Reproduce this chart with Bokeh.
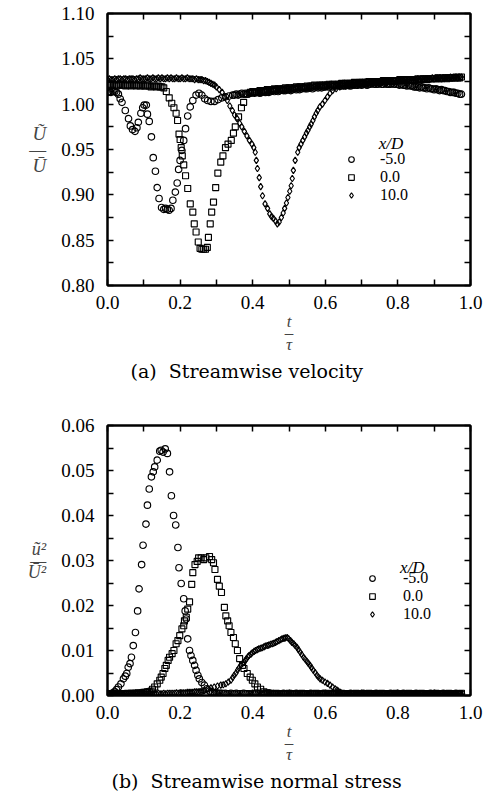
from bokeh.plotting import figure
from bokeh.models import (Range1d, LinearAxis, FixedTicker, Label, Legend, LegendItem,
                          PrintfTickFormatter, Title)
from bokeh.layouts import column
from bokeh.embed import file_html
from bokeh.resources import INLINE

SERIF = "Liberation Serif"
CAPF = "DejaVu Serif"

# common sampling grid of the phase t/tau (step 0.005) used by the flat parts
GRID = [0.000, 0.005, 0.010, 0.015, 0.020, 0.025, 0.030, 0.035, 0.040, 0.045,
        0.050, 0.055, 0.060, 0.065, 0.070, 0.075, 0.080, 0.085, 0.090, 0.095,
        0.100, 0.105, 0.110, 0.115, 0.120, 0.125, 0.130, 0.135, 0.140, 0.145,
        0.150, 0.155, 0.160, 0.165, 0.170, 0.175, 0.180, 0.185, 0.190, 0.195,
        0.200, 0.205, 0.210, 0.215, 0.220, 0.225, 0.230, 0.235, 0.240, 0.245,
        0.250, 0.255, 0.260, 0.265, 0.270, 0.275, 0.280, 0.285, 0.290, 0.295,
        0.300, 0.305, 0.310, 0.315, 0.320, 0.325, 0.330, 0.335, 0.340, 0.345,
        0.350, 0.355, 0.360, 0.365, 0.370, 0.375, 0.380, 0.385, 0.390, 0.395,
        0.400, 0.405, 0.410, 0.415, 0.420, 0.425, 0.430, 0.435, 0.440, 0.445,
        0.450, 0.455, 0.460, 0.465, 0.470, 0.475, 0.480, 0.485, 0.490, 0.495,
        0.500, 0.505, 0.510, 0.515, 0.520, 0.525, 0.530, 0.535, 0.540, 0.545,
        0.550, 0.555, 0.560, 0.565, 0.570, 0.575, 0.580, 0.585, 0.590, 0.595,
        0.600, 0.605, 0.610, 0.615, 0.620, 0.625, 0.630, 0.635, 0.640, 0.645,
        0.650, 0.655, 0.660, 0.665, 0.670, 0.675, 0.680, 0.685, 0.690, 0.695,
        0.700, 0.705, 0.710, 0.715, 0.720, 0.725, 0.730, 0.735, 0.740, 0.745,
        0.750, 0.755, 0.760, 0.765, 0.770, 0.775, 0.780, 0.785, 0.790, 0.795,
        0.800, 0.805, 0.810, 0.815, 0.820, 0.825, 0.830, 0.835, 0.840, 0.845,
        0.850, 0.855, 0.860, 0.865, 0.870, 0.875, 0.880, 0.885, 0.890, 0.895,
        0.900, 0.905, 0.910, 0.915, 0.920, 0.925, 0.930, 0.935, 0.940, 0.945,
        0.950, 0.955, 0.960, 0.965, 0.970, 0.975]

# ================= (a) streamwise velocity  U~/U =================
# x/D = -5.0 (circles)
ua_m5_start = [1.013, 1.014, 1.013, 1.014, 1.014, 1.013, 1.011]            # GRID[0:7]
ta_m5_dip = [0.035, 0.040, 0.049, 0.058, 0.063, 0.069, 0.076, 0.081, 0.085, 0.092, 0.097,
             0.101, 0.107, 0.110, 0.115, 0.121, 0.126, 0.132, 0.137, 0.142, 0.149, 0.155,
             0.160, 0.165, 0.170, 0.175, 0.180, 0.187, 0.192, 0.196, 0.200, 0.205, 0.210,
             0.215, 0.221, 0.228, 0.235, 0.244, 0.252, 0.260, 0.268, 0.276, 0.285, 0.295,
             0.305, 0.315, 0.325, 0.335, 0.345]
ua_m5_dip = [1.006, 1.002, 0.993, 0.984, 0.976, 0.972, 0.970, 0.974, 0.980, 0.990, 0.996,
             0.999, 0.999, 0.989, 0.981, 0.964, 0.941, 0.926, 0.908, 0.896, 0.886, 0.884,
             0.885, 0.884, 0.883, 0.885, 0.894, 0.903, 0.913, 0.928, 0.938, 0.949, 0.960,
             0.973, 0.987, 0.997, 1.004, 1.010, 1.012, 1.010, 1.006, 1.004, 1.003, 1.003,
             1.005, 1.007, 1.008, 1.009, 1.010]
ua_m5_end = [1.010, 1.011, 1.010, 1.011, 1.012, 1.011, 1.012, 1.011, 1.012, 1.012,   # GRID[70:]
             1.013, 1.012, 1.013, 1.013, 1.012, 1.013, 1.014, 1.013, 1.014, 1.013,
             1.014, 1.015, 1.014, 1.015, 1.014, 1.015, 1.016, 1.015, 1.015, 1.016,
             1.016, 1.015, 1.016, 1.017, 1.016, 1.017, 1.016, 1.017, 1.018, 1.017,
             1.017, 1.018, 1.018, 1.017, 1.018, 1.019, 1.018, 1.019, 1.018, 1.019,
             1.019, 1.020, 1.019, 1.020, 1.019, 1.020, 1.020, 1.021, 1.020, 1.020,
             1.021, 1.020, 1.021, 1.021, 1.020, 1.021, 1.022, 1.021, 1.021, 1.022,
             1.021, 1.022, 1.022, 1.021, 1.022, 1.022, 1.023, 1.022, 1.022, 1.022,
             1.023, 1.022, 1.022, 1.023, 1.022, 1.022, 1.022, 1.023, 1.022, 1.022,
             1.022, 1.021, 1.022, 1.021, 1.021, 1.020, 1.021, 1.020, 1.020, 1.019,
             1.019, 1.019, 1.018, 1.019, 1.018, 1.018, 1.017, 1.018, 1.017, 1.017,
             1.016, 1.017, 1.016, 1.015, 1.016, 1.015, 1.015, 1.014, 1.014, 1.013,
             1.013, 1.013, 1.012, 1.012, 1.011, 1.011]

# x/D = 0.0 (squares)
ua_0_start = [1.021, 1.022, 1.021, 1.022, 1.021, 1.020, 1.021, 1.022, 1.021, 1.021,   # GRID[0:32]
              1.020, 1.021, 1.021, 1.020, 1.021, 1.021, 1.020, 1.021, 1.020, 1.021,
              1.020, 1.020, 1.021, 1.020, 1.019, 1.020, 1.020, 1.019, 1.020, 1.019,
              1.019, 1.018]
ta_0_dip = [0.162, 0.170, 0.177, 0.183, 0.189, 0.193, 0.197, 0.200, 0.203, 0.206, 0.210,
            0.215, 0.221, 0.228, 0.235, 0.239, 0.244, 0.250, 0.255, 0.260, 0.265, 0.270,
            0.275, 0.278, 0.283, 0.287, 0.292, 0.298, 0.304, 0.312, 0.318, 0.325, 0.332,
            0.341, 0.347, 0.352, 0.361, 0.369, 0.375, 0.384, 0.393]
ua_0_dip = [1.014, 1.007, 1.001, 0.996, 0.990, 0.982, 0.967, 0.961, 0.952, 0.943, 0.933,
            0.921, 0.907, 0.890, 0.881, 0.868, 0.859, 0.848, 0.841, 0.840, 0.840, 0.840,
            0.842, 0.853, 0.868, 0.881, 0.892, 0.908, 0.924, 0.936, 0.943, 0.952, 0.956,
            0.960, 0.968, 0.975, 0.986, 0.996, 1.002, 1.011, 1.013]
ua_0_end = [1.014, 1.013, 1.014, 1.014, 1.015, 1.014, 1.015, 1.015, 1.016, 1.015,   # GRID[80:]
            1.016, 1.016, 1.017, 1.016, 1.017, 1.017, 1.016, 1.017, 1.018, 1.017,
            1.018, 1.018, 1.017, 1.018, 1.019, 1.018, 1.019, 1.019, 1.018, 1.019,
            1.020, 1.019, 1.020, 1.020, 1.021, 1.020, 1.020, 1.021, 1.021, 1.020,
            1.021, 1.021, 1.022, 1.021, 1.022, 1.022, 1.021, 1.022, 1.022, 1.023,
            1.022, 1.023, 1.023, 1.022, 1.023, 1.023, 1.024, 1.023, 1.023, 1.024,
            1.024, 1.023, 1.024, 1.024, 1.025, 1.024, 1.024, 1.025, 1.025, 1.024,
            1.025, 1.025, 1.026, 1.025, 1.025, 1.026, 1.026, 1.025, 1.026, 1.026,
            1.026, 1.027, 1.026, 1.026, 1.027, 1.027, 1.026, 1.027, 1.027, 1.027,
            1.027, 1.028, 1.027, 1.027, 1.028, 1.028, 1.027, 1.028, 1.028, 1.028,
            1.028, 1.028, 1.029, 1.028, 1.028, 1.029, 1.029, 1.028, 1.029, 1.029,
            1.029, 1.029, 1.030, 1.029, 1.029, 1.030]

# x/D = 10.0 (diamonds)
ua_10_start = [1.027, 1.028, 1.027, 1.027, 1.028, 1.027, 1.028, 1.028, 1.027, 1.028,   # GRID[0:60]
               1.028, 1.027, 1.028, 1.028, 1.028, 1.027, 1.028, 1.028, 1.029, 1.028,
               1.028, 1.028, 1.029, 1.028, 1.028, 1.029, 1.028, 1.028, 1.029, 1.028,
               1.029, 1.028, 1.028, 1.029, 1.028, 1.029, 1.028, 1.028, 1.029, 1.028,
               1.028, 1.029, 1.028, 1.028, 1.029, 1.028, 1.028, 1.028, 1.027, 1.028,
               1.027, 1.027, 1.027, 1.026, 1.026, 1.025, 1.024, 1.023, 1.022, 1.021]
ta_10_dip = [0.300, 0.308, 0.316, 0.323, 0.330, 0.337, 0.344, 0.350, 0.357, 0.364, 0.370,
             0.377, 0.384, 0.391, 0.398, 0.403, 0.407, 0.410, 0.413, 0.418, 0.422, 0.427,
             0.434, 0.441, 0.447, 0.452, 0.457, 0.463, 0.468, 0.473, 0.479, 0.484, 0.488,
             0.493, 0.497, 0.502, 0.506, 0.509, 0.512, 0.517, 0.524, 0.528, 0.533, 0.538,
             0.543, 0.548, 0.552, 0.557, 0.561, 0.566, 0.570, 0.575, 0.579, 0.585, 0.592,
             0.599, 0.606, 0.613, 0.620, 0.630, 0.640]
ua_10_dip = [1.019, 1.016, 1.013, 1.008, 1.004, 0.998, 0.993, 0.988, 0.984, 0.979, 0.975,
             0.970, 0.965, 0.960, 0.956, 0.952, 0.947, 0.938, 0.929, 0.919, 0.909, 0.899,
             0.890, 0.885, 0.879, 0.876, 0.874, 0.871, 0.868, 0.870, 0.875, 0.880, 0.885,
             0.891, 0.897, 0.904, 0.910, 0.918, 0.927, 0.938, 0.947, 0.952, 0.956, 0.960,
             0.964, 0.968, 0.971, 0.975, 0.978, 0.982, 0.986, 0.990, 0.993, 0.997, 1.000,
             1.004, 1.008, 1.012, 1.015, 1.017, 1.019]
ua_10_end = [1.020, 1.020, 1.021, 1.020, 1.021, 1.021, 1.021, 1.022, 1.021, 1.022,   # GRID[130:]
             1.022, 1.022, 1.023, 1.022, 1.023, 1.023, 1.023, 1.024, 1.023, 1.024,
             1.024, 1.024, 1.025, 1.024, 1.025, 1.025, 1.025, 1.025, 1.026, 1.025,
             1.026, 1.026, 1.026, 1.026, 1.027, 1.026, 1.027, 1.027, 1.027, 1.027,
             1.027, 1.028, 1.027, 1.028, 1.028, 1.028, 1.028, 1.028, 1.028, 1.029,
             1.028, 1.029, 1.029, 1.029, 1.028, 1.029, 1.029, 1.029, 1.029, 1.030,
             1.029, 1.029, 1.030, 1.029, 1.030, 1.030]

# ================= (b) streamwise normal stress  u~^2/U^2 =================
# x/D = -5.0 (circles)
vb_m5_start = [0.0003, 0.0004, 0.0004, 0.0006, 0.0009]                      # GRID[0:5]
tb_m5_dip = [0.025, 0.030, 0.037, 0.044, 0.049, 0.053, 0.057, 0.062, 0.066, 0.071, 0.077,
             0.083, 0.087, 0.094, 0.098, 0.106, 0.110, 0.115, 0.121, 0.126, 0.130, 0.137,
             0.144, 0.148, 0.153, 0.159, 0.165, 0.171, 0.176, 0.182, 0.188, 0.194, 0.197,
             0.203, 0.210, 0.214, 0.217, 0.221, 0.226, 0.230, 0.235, 0.240, 0.244, 0.249,
             0.253, 0.260, 0.267, 0.274, 0.281]
vb_m5_dip = [0.0013, 0.0019, 0.0026, 0.0037, 0.0043, 0.0049, 0.0063, 0.0071, 0.0085, 0.0111,
             0.0140, 0.0188, 0.0237, 0.0291, 0.0334, 0.0381, 0.0423, 0.0459, 0.0486, 0.0497,
             0.0508, 0.0523, 0.0543, 0.0545, 0.0541, 0.0548, 0.0538, 0.0497, 0.0444, 0.0400,
             0.0379, 0.0329, 0.0284, 0.0249, 0.0215, 0.0188, 0.0170, 0.0126, 0.0100, 0.0089,
             0.0078, 0.0067, 0.0056, 0.0045, 0.0037, 0.0029, 0.0023, 0.0015, 0.0010]
vb_m5_end = [0.0008, 0.0007, 0.0006, 0.0006, 0.0005, 0.0005, 0.0005, 0.0004, 0.0005, 0.0004,  # GRID[57:]
             0.0004, 0.0005, 0.0004, 0.0004, 0.0005, 0.0004, 0.0004, 0.0004, 0.0005, 0.0004,
             0.0004, 0.0004, 0.0003, 0.0004, 0.0004, 0.0005, 0.0004, 0.0004, 0.0003, 0.0004,
             0.0004, 0.0004, 0.0005, 0.0004, 0.0004, 0.0004, 0.0003, 0.0004, 0.0004, 0.0004,
             0.0005, 0.0004, 0.0004, 0.0003, 0.0004, 0.0004, 0.0004, 0.0005, 0.0004, 0.0004,
             0.0004, 0.0003, 0.0004, 0.0004, 0.0004, 0.0005, 0.0004, 0.0004, 0.0004, 0.0003,
             0.0004, 0.0004, 0.0005, 0.0004, 0.0004, 0.0004, 0.0003, 0.0004, 0.0004, 0.0005,
             0.0004, 0.0004, 0.0004, 0.0003, 0.0004, 0.0004, 0.0004, 0.0005, 0.0004, 0.0004,
             0.0003, 0.0004, 0.0004, 0.0004, 0.0005, 0.0004, 0.0004, 0.0004, 0.0003, 0.0004,
             0.0004, 0.0005, 0.0004, 0.0004, 0.0004, 0.0003, 0.0004, 0.0004, 0.0004, 0.0005,
             0.0004, 0.0004, 0.0003, 0.0004, 0.0004, 0.0004, 0.0005, 0.0004, 0.0004, 0.0004,
             0.0003, 0.0004, 0.0004, 0.0005, 0.0004, 0.0004, 0.0004, 0.0003, 0.0004, 0.0004,
             0.0004, 0.0005, 0.0004, 0.0004, 0.0003, 0.0004, 0.0004, 0.0004, 0.0005, 0.0004,
             0.0004, 0.0004, 0.0003, 0.0004, 0.0004, 0.0005, 0.0004, 0.0004, 0.0004]

# x/D = 0.0 (squares)
vb_0_start = [0.0003, 0.0003, 0.0003, 0.0004, 0.0003, 0.0004, 0.0003, 0.0004, 0.0004, 0.0004,  # GRID[0:25]
              0.0004, 0.0005, 0.0004, 0.0005, 0.0005, 0.0005, 0.0005, 0.0006, 0.0005, 0.0006,
              0.0007, 0.0007, 0.0008, 0.0009, 0.0010]
tb_0_dip = [0.124, 0.130, 0.137, 0.144, 0.148, 0.153, 0.158, 0.162, 0.167, 0.171, 0.178,
            0.183, 0.189, 0.194, 0.199, 0.205, 0.210, 0.212, 0.217, 0.221, 0.226, 0.232,
            0.235, 0.241, 0.247, 0.251, 0.258, 0.265, 0.271, 0.281, 0.287, 0.292, 0.296,
            0.303, 0.308, 0.314, 0.322, 0.326, 0.331, 0.335, 0.340, 0.347, 0.352, 0.358,
            0.364, 0.372, 0.376, 0.385, 0.393, 0.399, 0.406, 0.413, 0.422, 0.431]
vb_0_dip = [0.0014, 0.0019, 0.0026, 0.0034, 0.0041, 0.0049, 0.0060, 0.0067, 0.0078, 0.0085,
            0.0093, 0.0100, 0.0115, 0.0122, 0.0133, 0.0148, 0.0155, 0.0166, 0.0174, 0.0192,
            0.0208, 0.0247, 0.0273, 0.0291, 0.0298, 0.0306, 0.0306, 0.0302, 0.0306, 0.0309,
            0.0302, 0.0295, 0.0280, 0.0258, 0.0243, 0.0229, 0.0196, 0.0177, 0.0166, 0.0155,
            0.0140, 0.0129, 0.0115, 0.0100, 0.0082, 0.0067, 0.0060, 0.0049, 0.0041, 0.0034,
            0.0026, 0.0019, 0.0014, 0.0008]
vb_0_end = [0.0006, 0.0005, 0.0005, 0.0004, 0.0004, 0.0005, 0.0004, 0.0004, 0.0004, 0.0003,  # GRID[88:]
            0.0004, 0.0004, 0.0005, 0.0004, 0.0004, 0.0004, 0.0003, 0.0004, 0.0004, 0.0005,
            0.0004, 0.0004, 0.0004, 0.0003, 0.0004, 0.0004, 0.0004, 0.0005, 0.0004, 0.0004,
            0.0003, 0.0004, 0.0004, 0.0004, 0.0005, 0.0004, 0.0004, 0.0004, 0.0003, 0.0004,
            0.0004, 0.0005, 0.0004, 0.0004, 0.0004, 0.0003, 0.0004, 0.0004, 0.0004, 0.0005,
            0.0004, 0.0004, 0.0003, 0.0004, 0.0004, 0.0004, 0.0005, 0.0004, 0.0004, 0.0004,
            0.0003, 0.0004, 0.0004, 0.0005, 0.0004, 0.0004, 0.0004, 0.0003, 0.0004, 0.0004,
            0.0004, 0.0005, 0.0004, 0.0004, 0.0003, 0.0004, 0.0004, 0.0004, 0.0005, 0.0004,
            0.0004, 0.0004, 0.0003, 0.0004, 0.0004, 0.0005, 0.0004, 0.0004, 0.0004, 0.0003,
            0.0004, 0.0004, 0.0004, 0.0005, 0.0004, 0.0004, 0.0003, 0.0004, 0.0004, 0.0004,
            0.0005, 0.0004, 0.0004, 0.0004, 0.0003, 0.0004, 0.0004, 0.0005]

# x/D = 10.0 (diamonds)
vb_10_start = [0.0004, 0.0004, 0.0003, 0.0004, 0.0004, 0.0003, 0.0004, 0.0004, 0.0004, 0.0003,  # GRID[0:54]
               0.0004, 0.0004, 0.0004, 0.0003, 0.0004, 0.0004, 0.0004, 0.0003, 0.0004, 0.0004,
               0.0004, 0.0004, 0.0003, 0.0004, 0.0004, 0.0004, 0.0004, 0.0004, 0.0005, 0.0004,
               0.0004, 0.0005, 0.0004, 0.0005, 0.0005, 0.0005, 0.0005, 0.0005, 0.0006, 0.0005,
               0.0006, 0.0006, 0.0006, 0.0006, 0.0007, 0.0007, 0.0007, 0.0007, 0.0008, 0.0008,
               0.0008, 0.0009, 0.0009, 0.0010]
tb_10_dip = [0.268, 0.276, 0.285, 0.294, 0.303, 0.312, 0.319, 0.326, 0.333, 0.340, 0.345,
             0.349, 0.354, 0.358, 0.362, 0.367, 0.372, 0.376, 0.380, 0.383, 0.387, 0.390,
             0.395, 0.399, 0.404, 0.408, 0.413, 0.417, 0.422, 0.426, 0.431, 0.435, 0.440,
             0.444, 0.449, 0.454, 0.458, 0.463, 0.467, 0.472, 0.477, 0.481, 0.486, 0.490,
             0.495, 0.499, 0.504, 0.508, 0.513, 0.517, 0.522, 0.526, 0.531, 0.535, 0.540,
             0.544, 0.549, 0.553, 0.558, 0.562, 0.567, 0.572, 0.577, 0.581, 0.586, 0.592,
             0.599, 0.606, 0.613, 0.620, 0.627, 0.632, 0.636, 0.642, 0.649, 0.656, 0.663]
vb_10_dip = [0.0011, 0.0015, 0.0017, 0.0019, 0.0021, 0.0023, 0.0024, 0.0026, 0.0030, 0.0034,
             0.0040, 0.0045, 0.0050, 0.0056, 0.0061, 0.0067, 0.0071, 0.0074, 0.0078, 0.0082,
             0.0086, 0.0089, 0.0092, 0.0095, 0.0098, 0.0100, 0.0102, 0.0104, 0.0105, 0.0106,
             0.0108, 0.0110, 0.0111, 0.0112, 0.0114, 0.0115, 0.0116, 0.0118, 0.0120, 0.0122,
             0.0124, 0.0126, 0.0127, 0.0128, 0.0129, 0.0126, 0.0122, 0.0118, 0.0115, 0.0111,
             0.0107, 0.0102, 0.0096, 0.0091, 0.0085, 0.0081, 0.0076, 0.0072, 0.0067, 0.0062,
             0.0056, 0.0051, 0.0045, 0.0041, 0.0037, 0.0034, 0.0030, 0.0027, 0.0023, 0.0019,
             0.0015, 0.0012, 0.0010, 0.0007, 0.0004, 0.0003, 0.0002]
vb_10_end = [0.0002, 0.0003, 0.0002, 0.0002, 0.0003, 0.0002, 0.0002, 0.0002, 0.0003, 0.0002,  # GRID[134:]
             0.0002, 0.0003, 0.0002, 0.0002, 0.0002, 0.0003, 0.0002, 0.0002, 0.0003, 0.0002,
             0.0002, 0.0002, 0.0003, 0.0002, 0.0002, 0.0003, 0.0002, 0.0002, 0.0002, 0.0003,
             0.0002, 0.0002, 0.0003, 0.0002, 0.0002, 0.0002, 0.0003, 0.0002, 0.0002, 0.0003,
             0.0002, 0.0002, 0.0002, 0.0003, 0.0002, 0.0002, 0.0003, 0.0002, 0.0002, 0.0002,
             0.0003, 0.0002, 0.0002, 0.0003, 0.0002, 0.0002, 0.0002, 0.0003, 0.0002, 0.0002,
             0.0003, 0.0002]

series_labels = ["-5.0", "0.0", "10.0"]
x_ticks = [0.0, 0.2, 0.4, 0.6, 0.8, 1.0]
x_minor = [0.1, 0.3, 0.5, 0.7, 0.9]
ya_ticks = [0.80, 0.85, 0.90, 0.95, 1.00, 1.05, 1.10]
ya_minor = [0.825, 0.875, 0.925, 0.975, 1.025, 1.075]
yb_ticks = [0.00, 0.01, 0.02, 0.03, 0.04, 0.05, 0.06]
yb_minor = [0.005, 0.015, 0.025, 0.035, 0.045, 0.055]

# assemble series (t, value)
ta_m5 = GRID[0:7] + ta_m5_dip + GRID[70:]
ua_m5 = ua_m5_start + ua_m5_dip + ua_m5_end
ta_0 = GRID[0:32] + ta_0_dip + GRID[80:]
ua_0 = ua_0_start + ua_0_dip + ua_0_end
ta_10 = GRID[0:60] + ta_10_dip + GRID[130:]
ua_10 = ua_10_start + ua_10_dip + ua_10_end
tb_m5 = GRID[0:5] + tb_m5_dip + GRID[57:]
vb_m5 = vb_m5_start + vb_m5_dip + vb_m5_end
tb_0 = GRID[0:25] + tb_0_dip + GRID[88:]
vb_0 = vb_0_start + vb_0_dip + vb_0_end
tb_10 = GRID[0:54] + tb_10_dip + GRID[134:]
vb_10 = vb_10_start + vb_10_dip + vb_10_end
for _a, _b in [(ta_m5, ua_m5), (ta_0, ua_0), (ta_10, ua_10),
               (tb_m5, vb_m5), (tb_0, vb_0), (tb_10, vb_10)]:
    assert len(_a) == len(_b), (len(_a), len(_b))


def style_axis(ax, ticks, minor, fmt, standoff, show):
    ax.ticker = FixedTicker(ticks=ticks, minor_ticks=minor)
    ax.formatter = PrintfTickFormatter(format=fmt)
    ax.major_tick_in = 6
    ax.major_tick_out = 0
    ax.minor_tick_in = 6
    ax.minor_tick_out = 0
    ax.major_tick_line_width = 1.5
    ax.minor_tick_line_width = 1.5
    ax.major_tick_line_color = "black"
    ax.minor_tick_line_color = "black"
    ax.axis_line_width = 2
    ax.axis_line_color = "black"
    if show:
        ax.major_label_text_font = SERIF
        ax.major_label_text_font_size = "19px"
        ax.major_label_text_color = "black"
        ax.major_label_standoff = standoff
    else:
        ax.major_label_text_font_size = "0px"
        ax.major_label_text_color = None
        ax.major_label_standoff = 0


def make_fig(height, yr, left, right, top, bottom, yticks, yminor, yfmt):
    p = figure(width=488, height=height, x_range=Range1d(0, 1.0), y_range=Range1d(*yr),
               output_backend="svg", toolbar_location=None,
               min_border_left=left, min_border_right=right,
               min_border_top=top, min_border_bottom=bottom)
    p.xgrid.visible = False
    p.ygrid.visible = False
    p.outline_line_color = "black"
    p.outline_line_width = 2
    p.background_fill_color = "white"
    p.border_fill_color = "white"
    xa = p.xaxis[0]
    ya = p.yaxis[0]
    style_axis(xa, x_ticks, x_minor, "%.1f", 10, True)
    style_axis(ya, yticks, yminor, yfmt, 13, True)
    top_ax = LinearAxis()
    style_axis(top_ax, x_ticks, x_minor, "%.1f", 0, False)
    p.add_layout(top_ax, "above")
    right_ax = LinearAxis()
    style_axis(right_ax, yticks, yminor, yfmt, 0, False)
    p.add_layout(right_ax, "right")
    return p, xa, ya


def set_labels(xa, ya, ytext, ysize, ylh, xsize, xlh, xstand):
    ya.axis_label = ytext
    ya.axis_label_orientation = "horizontal"
    ya.axis_label_text_font = SERIF
    ya.axis_label_text_font_size = ysize
    ya.axis_label_text_font_style = "italic"
    ya.axis_label_text_line_height = ylh
    ya.axis_label_text_align = "center"
    ya.axis_label_standoff = 12
    xa.axis_label = "t\n–\nτ"
    xa.axis_label_text_font = SERIF
    xa.axis_label_text_font_size = xsize
    xa.axis_label_text_font_style = "italic"
    xa.axis_label_text_line_height = xlh
    xa.axis_label_standoff = xstand


def add_series(p, xs, ys):
    r1 = p.scatter(xs[0], ys[0], marker="circle", size=6.5, fill_color=None,
                   line_color="black", line_width=1.15)
    r2 = p.scatter(xs[1], ys[1], marker="square", size=6, fill_color=None,
                   line_color="black", line_width=1.15)
    r3 = p.scatter(xs[2], ys[2], marker="diamond", size=6.5, fill_color=None,
                   line_color="black", line_width=1.15)
    return [r1, r2, r3]


def add_legend(p, rends, left, row_bottoms, standoff):
    # one single-item legend per series, so the row pitch matches the original
    for lbl, r, yb in zip(series_labels, rends, row_bottoms):
        lg = Legend(items=[LegendItem(label=lbl, renderers=[r])], location=(left, yb),
                    orientation="vertical", padding=0, margin=0, spacing=0,
                    glyph_width=14, glyph_height=20, label_height=20,
                    label_standoff=standoff, label_text_font=SERIF,
                    label_text_font_size="16px", label_text_line_height=1.0,
                    label_text_color="black", background_fill_alpha=0,
                    border_line_color=None)
        p.add_layout(lg)


def lab(p, x, y, text, size, style="normal", font=SERIF, align="center"):
    p.add_layout(Label(x=x, y=y, text=text, text_font=font, text_font_size=size,
                       text_font_style=style, text_align=align, text_baseline="alphabetic",
                       text_color="black"))


# ---------------- figure (a) ----------------
p1, xa1, ya1 = make_fig(396, (0.80, 1.10), 107, 13, 13, 111, ya_ticks, ya_minor, "%.2f")
set_labels(xa1, ya1, "Ũ\n—\nŪ", "19px", 0.76, "17px", 0.62, 0)
r_a = add_series(p1, [ta_m5, ta_0, ta_10], [ua_m5, ua_0, ua_10])
add_legend(p1, r_a, 237, [116, 98, 80], 22)
lab(p1, (382 - 107) / 368.0, 0.80 + (285 - 143) * 0.30 / 272.0, "x/D", "17px", "italic",
    align="left")
p1.add_layout(Title(text="(a)\u00a0 Streamwise velocity", align="left", offset=23,
                    text_font=CAPF, text_font_size="19px", text_font_style="normal",
                    text_color="black", standoff=0), "below")

# ---------------- figure (b) ----------------
p2, xa2, ya2 = make_fig(395, (0.0, 0.06), 104, 18, 29, 94, yb_ticks, yb_minor, "%.2f")
set_labels(xa2, ya2, "ũ²\n—\nŪ²", "18px", 0.58, "17px", 0.62, 0)
r_b = add_series(p2, [tb_m5, tb_0, tb_10], [vb_m5, vb_0, vb_10])
add_legend(p2, r_b, 258, [107, 89, 71], 24)
lab(p2, (399 - 104) / 366.0, (697 - 568) * 0.06 / 272.0, "x/D", "17px", "italic",
    align="left")
p2.add_layout(Title(text="(b)\u00a0 Streamwise normal stress", align="left", offset=4,
                    text_font=CAPF, text_font_size="19px", text_font_style="normal",
                    text_color="black", standoff=0), "below")

layout = column(p1, p2, spacing=0)
open("out.html", "w").write(file_html(layout, INLINE))
